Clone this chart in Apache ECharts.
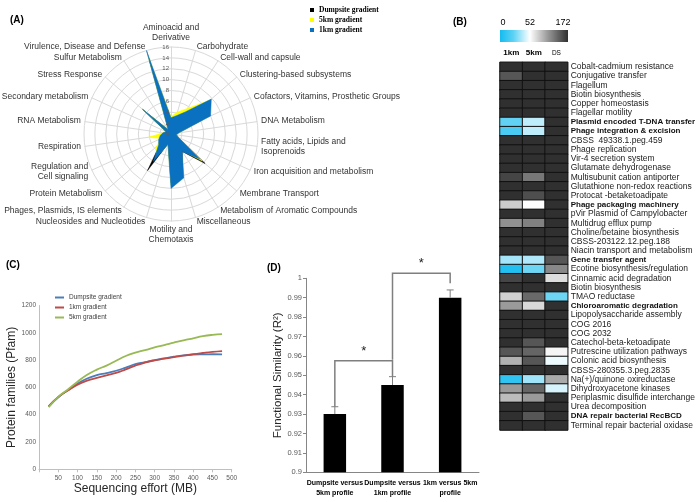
<!DOCTYPE html>
<html><head><meta charset="utf-8">
<script src="https://cdn.jsdelivr.net/npm/echarts@6/dist/echarts.min.js"></script>
<style>html,body{margin:0;padding:0;background:#fff}#c{width:697px;height:502px}</style>
</head><body><div id="c"></div>
<script>
// ---------- Panel A: radar ----------
const radarCategories = [
  'Aminoacid and\nDerivative', 'Carbohydrate', 'Cell-wall and capsule', 'Clustering-based subsystems',
  'Cofactors, Vitamins, Prosthetic Groups', 'DNA Metabolism', 'Fatty acids, Lipids and\nIsoprenoids',
  'Iron acquisition and metabolism', 'Membrane Transport', 'Metabolism of Aromatic Compounds',
  'Miscellaneous', 'Motility and\nChemotaxis', 'Nucleosides and Nucleotides', 'Phages, Plasmids, IS elements',
  'Protein Metabolism', 'Regulation and\nCell signaling', 'Respiration', 'RNA Metabolism',
  'Secondary metabolism', 'Stress Response', 'Sulfur Metabolism', 'Virulence, Disease and Defense'
];
const radarDumpsite = [2.5, 2.8, 3.5, 8, 6.5, 1.2, 1, 1.5, 8.3, 3.8, 7.5, 9, 1.8, 8, 2.5, 2, 1.8, 1.2, 1, 6.8, 0.8, 14];
const radar5km      = [3.2, 4.2, 5.6, 9.6, 7.5, 1.5, 1, 1.5, 7.6, 3.5, 8, 9.5, 2, 5, 3.6, 2, 4.2, 1.5, 1, 7, 1, 15];
const radar1km      = [3, 3.5, 4.8, 9.8, 8, 1.5, 1, 1.5, 7, 3.8, 8.4, 10, 2, 6, 3, 2.5, 2, 1.5, 1, 7, 1, 16];
const radarMax = 16;

// ---------- Panel B: heatmap ----------
const heatRows = [
  'Cobalt-cadmium resistance', 'Conjugative transfer', 'Flagellum', 'Biotin biosynthesis', 'Copper homeostasis',
  'Flagellar motility', 'Plasmid encoded T-DNA transfer', 'Phage integration & excision', 'CBSS  49338.1.peg.459',
  'Phage replication', 'Vir-4 secretion system', 'Glutamate dehydrogenase', 'Multisubunit cation antiporter',
  'Glutathione non-redox reactions', 'Protocat -betaketoadipate', 'Phage packaging machinery',
  'pVir Plasmid of Campylobacter', 'Multidrug efflux pump', 'Choline/betaine biosynthesis',
  'CBSS-203122.12.peg.188', 'Niacin transport and metabolism', 'Gene transfer agent',
  'Ecotine biosynthesis/regulation', 'Cinnamic acid degradation', 'Biotin biosynthesis', 'TMAO reductase',
  'Chloroaromatic degradation', 'Lipopolysaccharide assembly', 'COG 2016', 'COG 2032',
  'Catechol-beta-ketoadipate', 'Putrescine utilization pathways', 'Colonic acid biosynthesis',
  'CBSS-280355.3.peg.2835', 'Na(+)/quinone oxireductase', 'Dihydroxyacetone kinases',
  'Periplasmic disulfide interchange', 'Urea decomposition', 'DNA repair bacterial RecBCD',
  'Terminal repair bacterial oxidase'
];
const heatCols = ['1km', '5km', 'DS'];
const heat1km = [172,150,172,172,172,172,17,12,172,172,172,172,160,172,172,82,172,116,172,172,172,32,3,160,172,79,111,172,172,172,172,150,97,172,6,111,91,172,172,172];
const heat5km = [172,172,172,172,172,172,38,38,172,172,172,172,131,172,155,54,172,125,172,172,172,34,20,172,172,139,75,172,172,172,150,141,150,172,31,141,111,172,150,172];
const heatDS  = [172,172,172,172,172,172,172,172,172,172,172,172,172,172,172,172,172,172,172,172,172,150,121,72,172,20,172,172,172,172,172,58,48,172,101,43,172,172,172,172];
const heatScale = [0, 52, 172];
const heatBoldRows = ['Plasmid encoded T-DNA transfer', 'Phage integration & excision', 'Phage packaging machinery',
  'Gene transfer agent', 'Chloroaromatic degradation', 'DNA repair bacterial RecBCD'];

// ---------- Panel C: rarefaction ----------
const effortMB = [25,50,75,100,125,150,175,200,225,250,275,300,325,350,375,400,425,450,475];
const pfamDumpsite = [460,527,580,628,665,690,705,722,745,770,785,800,812,825,835,840,842,843,842];
const pfam1km      = [462,530,578,620,650,670,688,706,732,760,782,798,810,822,832,843,852,860,866];
const pfam5km      = [455,530,585,642,692,730,760,795,830,855,873,893,910,928,945,960,975,985,991];

// ---------- Panel D: functional similarity ----------
const simCategories = ['Dumpsite versus\n5km profile', 'Dumpsite versus\n1km profile', '1km versus 5km\nprofile'];
const simValues = [0.93, 0.945, 0.99];
const simErrors = [0.0038, 0.0043, 0.004];
const sigFrom = [0, 1];
const sigTo = [1, 2];
const sigTop = [0.9575, 1.0026];
const sigLeftEnd = [0.9338, 0.958];
const sigRightEnd = [0.9493, 0.9974];
const sigMark = ['*', '*'];

// ---------- build ----------
const F = "'Liberation Sans',sans-serif";
const n = radarCategories.length;
const order = [0]; for (let i = n - 1; i >= 1; i--) order.push(i); // clockwise layout
const ro = a => order.map(i => a[i]);

// colour ramp: cyan (0) -> white (52) -> dark grey (172)
function lerp(a, b, t) { return Math.round(a + (b - a) * t); }
function hex(r, g, b) { return '#' + [r, g, b].map(v => v.toString(16).padStart(2, '0')).join(''); }
const ramp = [];
for (let v = 0; v <= 172; v += 4) {
  if (v <= 52) { const t = v / 52; ramp.push(hex(lerp(20,255,t), lerp(188,255,t), lerp(239,255,t))); }
  else { const t = (v - 52) / 120; ramp.push(hex(lerp(255,48,t), lerp(255,48,t), lerp(255,48,t))); }
}
const heatData = [];
[heat1km, heat5km, heatDS].forEach((col, ci) => col.forEach((v, ri) => heatData.push([ci, ri, v])));
const boldSet = new Set(heatBoldRows);

const chart = echarts.init(document.getElementById('c'));
const radarColors = { 'Dumpsite gradient': '#000000', '5km gradient': '#ffff00', '1km gradient': '#0a70c0' };
const lineColors = { d: '#4a7ebb', k1: '#be4b48', k5: '#98b954' };

const option = {
  backgroundColor: '#fff',
  animation: false,
  textStyle: { fontFamily: F },
  graphic: [
    { type: 'text', left: 10, top: 15, style: { text: '(A)', font: 'bold 10px ' + F, fill: '#000' } },
    { type: 'text', left: 453, top: 17, style: { text: '(B)', font: 'bold 10px ' + F, fill: '#000' } },
    { type: 'text', left: 6, top: 260, style: { text: '(C)', font: 'bold 10px ' + F, fill: '#000' } },
    { type: 'text', left: 267, top: 263, style: { text: '(D)', font: 'bold 10px ' + F, fill: '#000' } },
    { type: 'rect', shape: { x: 500, y: 30, width: 68, height: 12 },
      style: { fill: new echarts.graphic.LinearGradient(0, 0, 1, 0, [
        { offset: 0, color: '#14bcef' }, { offset: 0.2, color: '#5ed2f5' }, { offset: 0.44, color: '#ffffff' },
        { offset: 0.7, color: '#9a9a9a' }, { offset: 1, color: '#303030' }]) } },
    { type: 'text', x: 503, y: 23, style: { text: String(heatScale[0]), font: '9px ' + F, fill: '#000', align: 'center', verticalAlign: 'middle' } },
    { type: 'text', x: 530, y: 23, style: { text: String(heatScale[1]), font: '9px ' + F, fill: '#000', align: 'center', verticalAlign: 'middle' } },
    { type: 'text', x: 563, y: 23, style: { text: String(heatScale[2]), font: '9px ' + F, fill: '#000', align: 'center', verticalAlign: 'middle' } }
  ],
  legend: [
    { data: ['Dumpsite gradient', '5km gradient', '1km gradient'], orient: 'vertical', left: 305, top: 1,
      icon: 'rect', itemWidth: 4, itemHeight: 4, itemGap: 2, selectedMode: false,
      textStyle: { fontFamily: "'Liberation Serif',serif", fontWeight: 'bold', fontSize: 7.5, color: '#000', lineHeight: 8 } },
    { data: ['C:Dumpsite gradient', 'C:1km gradient', 'C:5km gradient'], orient: 'vertical', left: 50, top: 289,
      icon: 'rect', itemWidth: 9, itemHeight: 2, itemGap: 3, selectedMode: false,
      formatter: nm => nm.replace('C:', ''),
      textStyle: { fontSize: 6.5, color: '#404040', lineHeight: 7 } }
  ],
  radar: [
    {
      center: [171, 134], radius: 87, startAngle: 90, shape: 'circle', splitNumber: 8,
      indicator: order.map(i => ({ name: radarCategories[i], min: 0, max: radarMax })),
      axisName: { color: '#333', fontSize: 8.5, fontFamily: F, lineHeight: 10 },
      nameGap: 4,
      splitLine: { lineStyle: { color: '#d9d9d9', width: 1 } },
      splitArea: { show: false },
      axisLine: { lineStyle: { color: '#d9d9d9' } },
      axisTick: { show: false },
      axisLabel: { show: false }
    },
    {
      center: [171, 134], radius: 87, startAngle: 90, shape: 'circle', splitNumber: 8, z: 10,
      indicator: order.map((i, k) => (k === 0
        ? { name: '', min: 0, max: radarMax, axisLabel: { show: true, fontSize: 6, color: '#595959', margin: 2 } }
        : { name: '', min: 0, max: radarMax })),
      axisName: { show: false },
      splitLine: { show: false },
      splitArea: { show: false },
      axisLine: { show: false },
      axisTick: { show: false },
      axisLabel: { show: false }
    }
  ],
  grid: [
    { left: 39, top: 305.5, width: 192.7, height: 163.8, outerBoundsMode: 'none', containLabel: false },
    { left: 306, top: 278.3, width: 173, height: 194, outerBoundsMode: 'none', containLabel: false },
    { left: 500, top: 62.3, width: 67.7, height: 367.7, outerBoundsMode: 'none', containLabel: false }
  ],
  xAxis: [
    { gridIndex: 0, type: 'value', min: 0, max: 500, interval: 50,
      axisLine: { lineStyle: { color: '#bfbfbf' } }, axisTick: { length: 3, lineStyle: { color: '#bfbfbf' } },
      splitLine: { show: false },
      axisLabel: { fontSize: 6.5, color: '#595959', margin: 5, formatter: v => (v === 0 ? '' : String(v)) },
      name: 'Sequencing effort (MB)', nameLocation: 'middle', nameGap: 12,
      nameTextStyle: { fontSize: 12, color: '#262626', verticalAlign: 'top' } },
    { gridIndex: 1, type: 'category', data: simCategories,
      axisLine: { lineStyle: { color: '#868686' } }, axisTick: { length: 4, lineStyle: { color: '#868686' } },
      axisLabel: { fontSize: 7, fontWeight: 'bold', color: '#000', lineHeight: 10, margin: 6, interval: 0 } },
    { gridIndex: 2, type: 'category', data: heatCols, position: 'top',
      axisLine: { show: false }, axisTick: { show: false },
      axisLabel: { margin: 6, interval: 0,
        formatter: v => (v === 'DS' ? '{s|' + v + '}' : '{b|' + v + '}'),
        rich: { b: { fontWeight: 'bold', fontSize: 8, color: '#000', fontFamily: F },
                s: { fontSize: 6.5, color: '#000', fontFamily: F } } } }
  ],
  yAxis: [
    { gridIndex: 0, type: 'value', min: 0, max: 1200, interval: 200,
      axisLine: { show: true, lineStyle: { color: '#bfbfbf' } }, axisTick: { show: false },
      splitLine: { show: false },
      axisLabel: { fontSize: 6.5, color: '#595959', margin: 3, formatter: v => String(v) },
      name: 'Protein families (Pfam)', nameLocation: 'middle', nameGap: 20,
      nameTextStyle: { fontSize: 12, color: '#262626' } },
    { gridIndex: 1, type: 'value', min: 0.9, max: 1, interval: 0.01,
      axisLine: { show: true, lineStyle: { color: '#868686' } }, axisTick: { show: true, length: 3, lineStyle: { color: '#868686' } },
      splitLine: { show: false },
      axisLabel: { fontSize: 7.5, color: '#595959', margin: 4 },
      name: 'Functional Similarity (R²)', nameLocation: 'middle', nameGap: 21,
      nameTextStyle: { fontSize: 11.5, color: '#262626' } },
    { gridIndex: 2, type: 'category', data: heatRows, inverse: true, position: 'right',
      axisLine: { show: false }, axisTick: { show: false },
      axisLabel: { margin: 3, interval: 0,
        formatter: v => (boldSet.has(v) ? '{b|' + v + '}' : '{n|' + v + '}'),
        rich: { b: { fontWeight: 'bold', fontSize: 8, color: '#111', fontFamily: F },
                n: { fontSize: 8.5, color: '#222', fontFamily: F } } } }
  ],
  visualMap: { type: 'continuous', show: false, min: 0, max: 172, seriesIndex: 5, inRange: { color: ramp } },
  series: [
    ...['Dumpsite gradient', '5km gradient', '1km gradient'].map((nm, k) => ({
      type: 'radar', radarIndex: 0, name: nm, symbol: 'none',
      itemStyle: { color: radarColors[nm] },
      lineStyle: { width: 0.5, color: radarColors[nm] },
      areaStyle: { color: radarColors[nm], opacity: 1 },
      data: [{ name: nm, value: ro([radarDumpsite, radar5km, radar1km][k]) }]
    })),
    { type: 'line', name: 'C:Dumpsite gradient', xAxisIndex: 0, yAxisIndex: 0, smooth: true, symbol: 'none',
      itemStyle: { color: lineColors.d }, lineStyle: { width: 1.8, color: lineColors.d },
      data: effortMB.map((x, i) => [x, pfamDumpsite[i]]) },
    { type: 'line', name: 'C:1km gradient', xAxisIndex: 0, yAxisIndex: 0, smooth: true, symbol: 'none',
      itemStyle: { color: lineColors.k1 }, lineStyle: { width: 1.8, color: lineColors.k1 },
      data: effortMB.map((x, i) => [x, pfam1km[i]]) },
    { type: 'heatmap', xAxisIndex: 2, yAxisIndex: 2, data: heatData,
      itemStyle: { borderColor: '#111', borderWidth: 1 } },
    { type: 'line', name: 'C:5km gradient', xAxisIndex: 0, yAxisIndex: 0, smooth: true, symbol: 'none',
      itemStyle: { color: lineColors.k5 }, lineStyle: { width: 1.8, color: lineColors.k5 },
      data: effortMB.map((x, i) => [x, pfam5km[i]]) },
    { type: 'bar', xAxisIndex: 1, yAxisIndex: 1, data: simValues, barWidth: '39%',
      itemStyle: { color: '#000' } },
    { type: 'custom', xAxisIndex: 1, yAxisIndex: 1, clip: false, z: 5,
      data: simValues.map((v, i) => [i, v, simErrors[i]]),
      renderItem: (params, api) => {
        const p0 = api.coord([api.value(0), api.value(1)]);
        const p1 = api.coord([api.value(0), api.value(1) + api.value(2)]);
        const st = { stroke: '#7f7f7f', lineWidth: 1 };
        return { type: 'group', children: [
          { type: 'line', shape: { x1: p0[0], y1: p0[1], x2: p1[0], y2: p1[1] }, style: st },
          { type: 'line', shape: { x1: p1[0] - 3.5, y1: p1[1], x2: p1[0] + 3.5, y2: p1[1] }, style: st }
        ] };
      } },
    { type: 'custom', xAxisIndex: 1, yAxisIndex: 1, clip: false, z: 5,
      data: sigFrom.map((f, i) => [f, sigTo[i], sigTop[i], sigLeftEnd[i], sigRightEnd[i]]),
      renderItem: (params, api) => {
        const a = api.value(0), b = api.value(1), h = api.value(2);
        const pL0 = api.coord([a, api.value(3)]), pL1 = api.coord([a, h]);
        const pR1 = api.coord([b, h]), pR0 = api.coord([b, api.value(4)]);
        const st = { stroke: '#7f7f7f', lineWidth: 1.5, fill: null };
        return { type: 'group', children: [
          { type: 'polyline', shape: { points: [pL0, pL1, pR1, pR0] }, style: st },
          { type: 'text', x: (pL1[0] + pR1[0]) / 2, y: pL1[1] - 3,
            style: { text: sigMark[params.dataIndex], font: '13px ' + F, fill: '#222', align: 'center', verticalAlign: 'bottom' } }
        ] };
      } }
  ]
};
chart.setOption(option);
</script></body></html>
